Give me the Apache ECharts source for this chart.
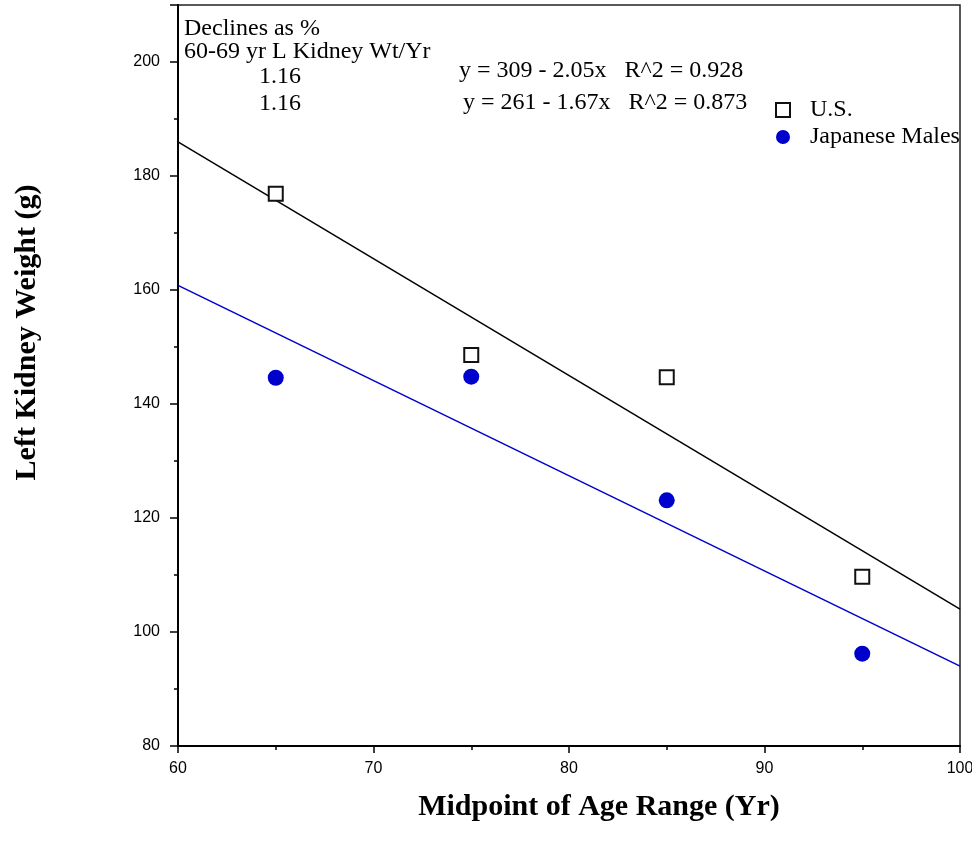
<!DOCTYPE html>
<html>
<head>
<meta charset="utf-8">
<script src="https://cdn.jsdelivr.net/npm/echarts@6/dist/echarts.min.js"></script>
<style>
  html, body { margin: 0; padding: 0; background: #fff; }
  #chart { width: 972px; height: 854px; }
</style>
</head>
<body>
<div id="chart"></div>
<script>
// age-range midpoints (yr) and left kidney weights (g)
const ages = [65, 75, 85, 95];
const usWeights = [176.9, 148.6, 144.7, 109.7];
const japanWeights = [144.6, 144.8, 123.1, 96.2];

// fitted lines, endpoints at the axis edges
const usFit = [[60, 186], [100, 104]];
const japanFit = [[60, 160.8], [100, 94]];

const noteTitle = ['Declines as %', '60-69 yr L Kidney Wt/Yr'];
const noteValues = ['1.16', '1.16'];
const usEquation = 'y = 309 - 2.05x\u00a0\u00a0\u00a0R^2 = 0.928';
const japanEquation = 'y = 261 - 1.67x\u00a0\u00a0\u00a0R^2 = 0.873';

const SERIF = '"Liberation Serif", "DejaVu Serif", serif';
const SANS = '"Liberation Sans", Arial, sans-serif';
const BLUE = '#0000cc';
const TEXT_FONT = '24px ' + SERIF;

const chart = echarts.init(document.getElementById('chart'), null, { renderer: 'canvas' });

// ticks: long majors, short minors, both outside
const tickStyle = { inside: false, length: 8, lineStyle: { color: '#000', width: 1.5 } };
const minorStyle = { show: true, splitNumber: 2, length: 4, lineStyle: { color: '#000', width: 1.5 } };

chart.setOption({
  animation: false,
  backgroundColor: '#fff',
  grid: {
    left: 178, right: 12, top: 5, bottom: 108,
    containLabel: false,
    outerBoundsMode: 'none',
    show: true, borderColor: '#222', borderWidth: 1.5,
  },
  legend: {
    data: ['U.S.', 'Japanese Males'],
    orient: 'vertical',
    left: 770, top: 93,
    itemGap: 3,
    itemWidth: 14, itemHeight: 14,
    textStyle: { fontFamily: SERIF, fontSize: 24, color: '#000', padding: [0, 0, 0, 15] },
  },
  xAxis: {
    type: 'value',
    min: 60, max: 100, interval: 10,
    name: 'Midpoint of Age Range (Yr)',
    nameLocation: 'middle',
    nameGap: 46,
    nameTextStyle: {
      fontFamily: SERIF, fontSize: 30, fontWeight: 'bold', color: '#000',
      padding: [0, 0, 0, 60],
    },
    axisLine: { onZero: false, lineStyle: { color: '#000', width: 2 } },
    axisTick: { ...tickStyle, length: 7 },
    minorTick: minorStyle,
    axisLabel: { fontFamily: SANS, fontSize: 16, color: '#000', margin: 15 },
    splitLine: { show: false },
  },
  yAxis: {
    type: 'value',
    min: 80, max: 210, interval: 20,
    name: 'Left Kidney Weight (g)',
    nameLocation: 'middle',
    nameGap: 136,
    nameRotate: 90,
    nameTextStyle: {
      fontFamily: SERIF, fontSize: 30, fontWeight: 'bold', color: '#000',
      padding: [0, 0, 0, 86],
    },
    axisLine: { onZero: false, lineStyle: { color: '#000', width: 2 } },
    axisTick: tickStyle,
    minorTick: minorStyle,
    axisLabel: { fontFamily: SANS, fontSize: 16, color: '#000', margin: 18, showMaxLabel: false },
    splitLine: { show: false },
  },
  series: [
    {
      name: 'U.S. fit', type: 'line', data: usFit,
      symbol: 'none', silent: true,
      lineStyle: { color: '#000', width: 1.5 },
    },
    {
      name: 'Japanese fit', type: 'line', data: japanFit,
      symbol: 'none', silent: true,
      lineStyle: { color: BLUE, width: 1.5 },
    },
    {
      name: 'U.S.', type: 'scatter',
      data: ages.map((a, i) => [a, usWeights[i]]),
      symbol: 'rect', symbolSize: 14,
      itemStyle: { color: '#fff', borderColor: '#111', borderWidth: 2, opacity: 1 },
      z: 5,
    },
    {
      name: 'Japanese Males', type: 'scatter',
      data: ages.map((a, i) => [a, japanWeights[i]]),
      symbol: 'circle', symbolSize: 16,
      itemStyle: { color: BLUE, opacity: 1 },
      z: 5,
    },
  ],
  graphic: [
    {
      type: 'text', left: 184, top: 17,
      style: { text: noteTitle.join('\n'), font: TEXT_FONT, fill: '#000', lineHeight: 23 },
    },
    {
      type: 'text', left: 259, top: 63,
      style: { text: noteValues.join('\n'), font: TEXT_FONT, fill: '#000', lineHeight: 27 },
    },
    {
      type: 'text', left: 459, top: 59,
      style: { text: usEquation, font: TEXT_FONT, fill: '#000' },
    },
    {
      type: 'text', left: 463, top: 91,
      style: { text: japanEquation, font: TEXT_FONT, fill: '#000' },
    },
  ],
});
</script>
</body>
</html>
